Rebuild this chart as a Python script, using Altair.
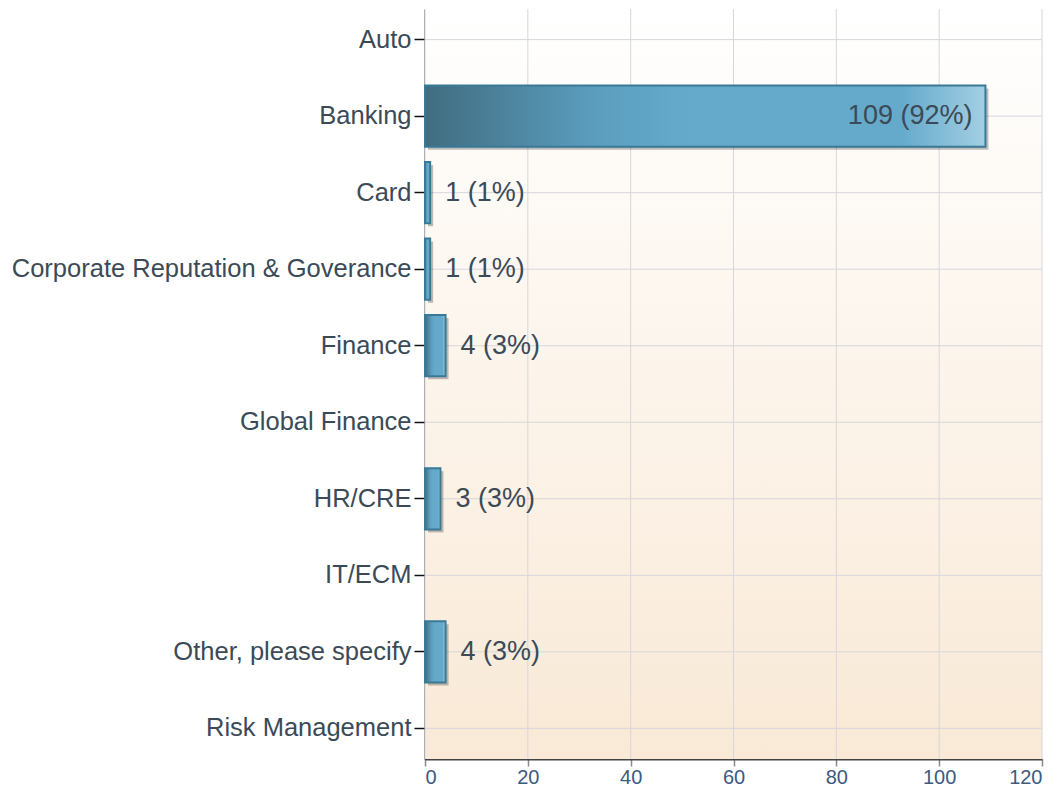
import altair as alt
import pandas as pd

categories = [
    "Auto",
    "Banking",
    "Card",
    "Corporate Reputation & Goverance",
    "Finance",
    "Global Finance",
    "HR/CRE",
    "IT/ECM",
    "Other, please specify",
    "Risk Management",
]
counts = [0, 109, 1, 1, 4, 0, 3, 0, 4, 0]
percents = [0, 92, 1, 1, 3, 0, 3, 0, 3, 0]
x_ticks = [0, 20, 40, 60, 80, 100, 120]

df = pd.DataFrame({"category": categories, "count": counts, "pct": percents})
df["label"] = [f"{c} ({p}%)" for c, p in zip(counts, percents)]
ticks_df = pd.DataFrame({"tick": x_ticks})
bg_df = pd.DataFrame({"z": [0]})

FONT = "Liberation Sans"
GRID = "#d6d6dc"
TEXT = "#3b4a57"

yscale = alt.Scale(domain=categories, paddingInner=0.2, paddingOuter=0)
xscale = alt.Scale(domain=[0, 120], nice=False, zero=True)

y_axis = alt.Axis(
    title=None, labelFontSize=25.5, labelColor=TEXT, labelFont=FONT,
    tickSize=11, tickColor="#111", tickWidth=1.5, domainColor="#111",
    domainWidth=2, labelPadding=3, bandPosition=0.5, grid=False, labelLimit=600,
)
x_axis = alt.Axis(
    title=None, values=x_ticks, labelFontSize=20, labelColor="#3d5a80", labelFont=FONT,
    tickSize=7, tickColor="#888", tickWidth=1.5, domainColor="#444", domainWidth=2,
    labelPadding=1, grid=False,
)

y_enc = alt.Y("category:N", scale=yscale, sort=categories, axis=y_axis)
x_enc = alt.X("count:Q", scale=xscale, axis=x_axis)

background = alt.Chart(bg_df).mark_rect(
    color=alt.Gradient(
        gradient="linear",
        stops=[alt.GradientStop(color="#ffffff", offset=0),
               alt.GradientStop(color="#f9e9d6", offset=1)],
        x1=0, x2=0, y1=0, y2=1,
    )
).encode(x=alt.value(0), x2=alt.value("width"), y=alt.value(0), y2=alt.value("height"))

hgrid = alt.Chart(df).mark_rule(color=GRID, strokeWidth=1).encode(
    y=y_enc, x=alt.value(0), x2=alt.value("width")
)
vgrid = alt.Chart(ticks_df).mark_rule(color=GRID, strokeWidth=1).encode(
    x=alt.X("tick:Q", scale=xscale, axis=x_axis), y=alt.value(0), y2=alt.value("height")
)

bars_df = df[df["count"] > 0]

shadow = alt.Chart(bars_df).mark_bar(
    color="#000000", opacity=0.25, xOffset=3, x2Offset=3, yOffset=3, y2Offset=3
).encode(x=x_enc, y=y_enc)

bars = alt.Chart(bars_df).mark_bar(
    color=alt.Gradient(
        gradient="linear",
        stops=[alt.GradientStop(color="#416c80", offset=0),
               alt.GradientStop(color="#5b9dbd", offset=0.3),
               alt.GradientStop(color="#64a9ca", offset=0.45),
               alt.GradientStop(color="#66aacb", offset=0.85),
               alt.GradientStop(color="#a3cfe2", offset=1)],
        x1=0, x2=1, y1=0, y2=0,
    ),
    stroke="#3a7996", strokeWidth=2,
).encode(x=x_enc, y=y_enc)

labels_out = alt.Chart(df).transform_filter(
    (alt.datum.count > 0) & (alt.datum.count < 60)
).mark_text(align="left", baseline="middle", dx=15, fontSize=27, font=FONT, color=TEXT).encode(
    x=x_enc, y=y_enc, text="label:N"
)
labels_in = alt.Chart(df).transform_filter(alt.datum.count >= 60).mark_text(
    align="right", baseline="middle", dx=-13, fontSize=27, font=FONT, color=TEXT
).encode(x=x_enc, y=y_enc, text="label:N")

chart = alt.layer(
    background, hgrid, vgrid, shadow, bars, labels_out, labels_in
).properties(
    width=617, height=750,
    autosize=alt.AutoSizeParams(type="none"),
    padding={"left": 417, "top": 1, "right": 10, "bottom": 28},
    background="#ffffff",
).configure_view(stroke=None)

chart.save("out.html", embed_options={"renderer": "svg", "actions": False})
